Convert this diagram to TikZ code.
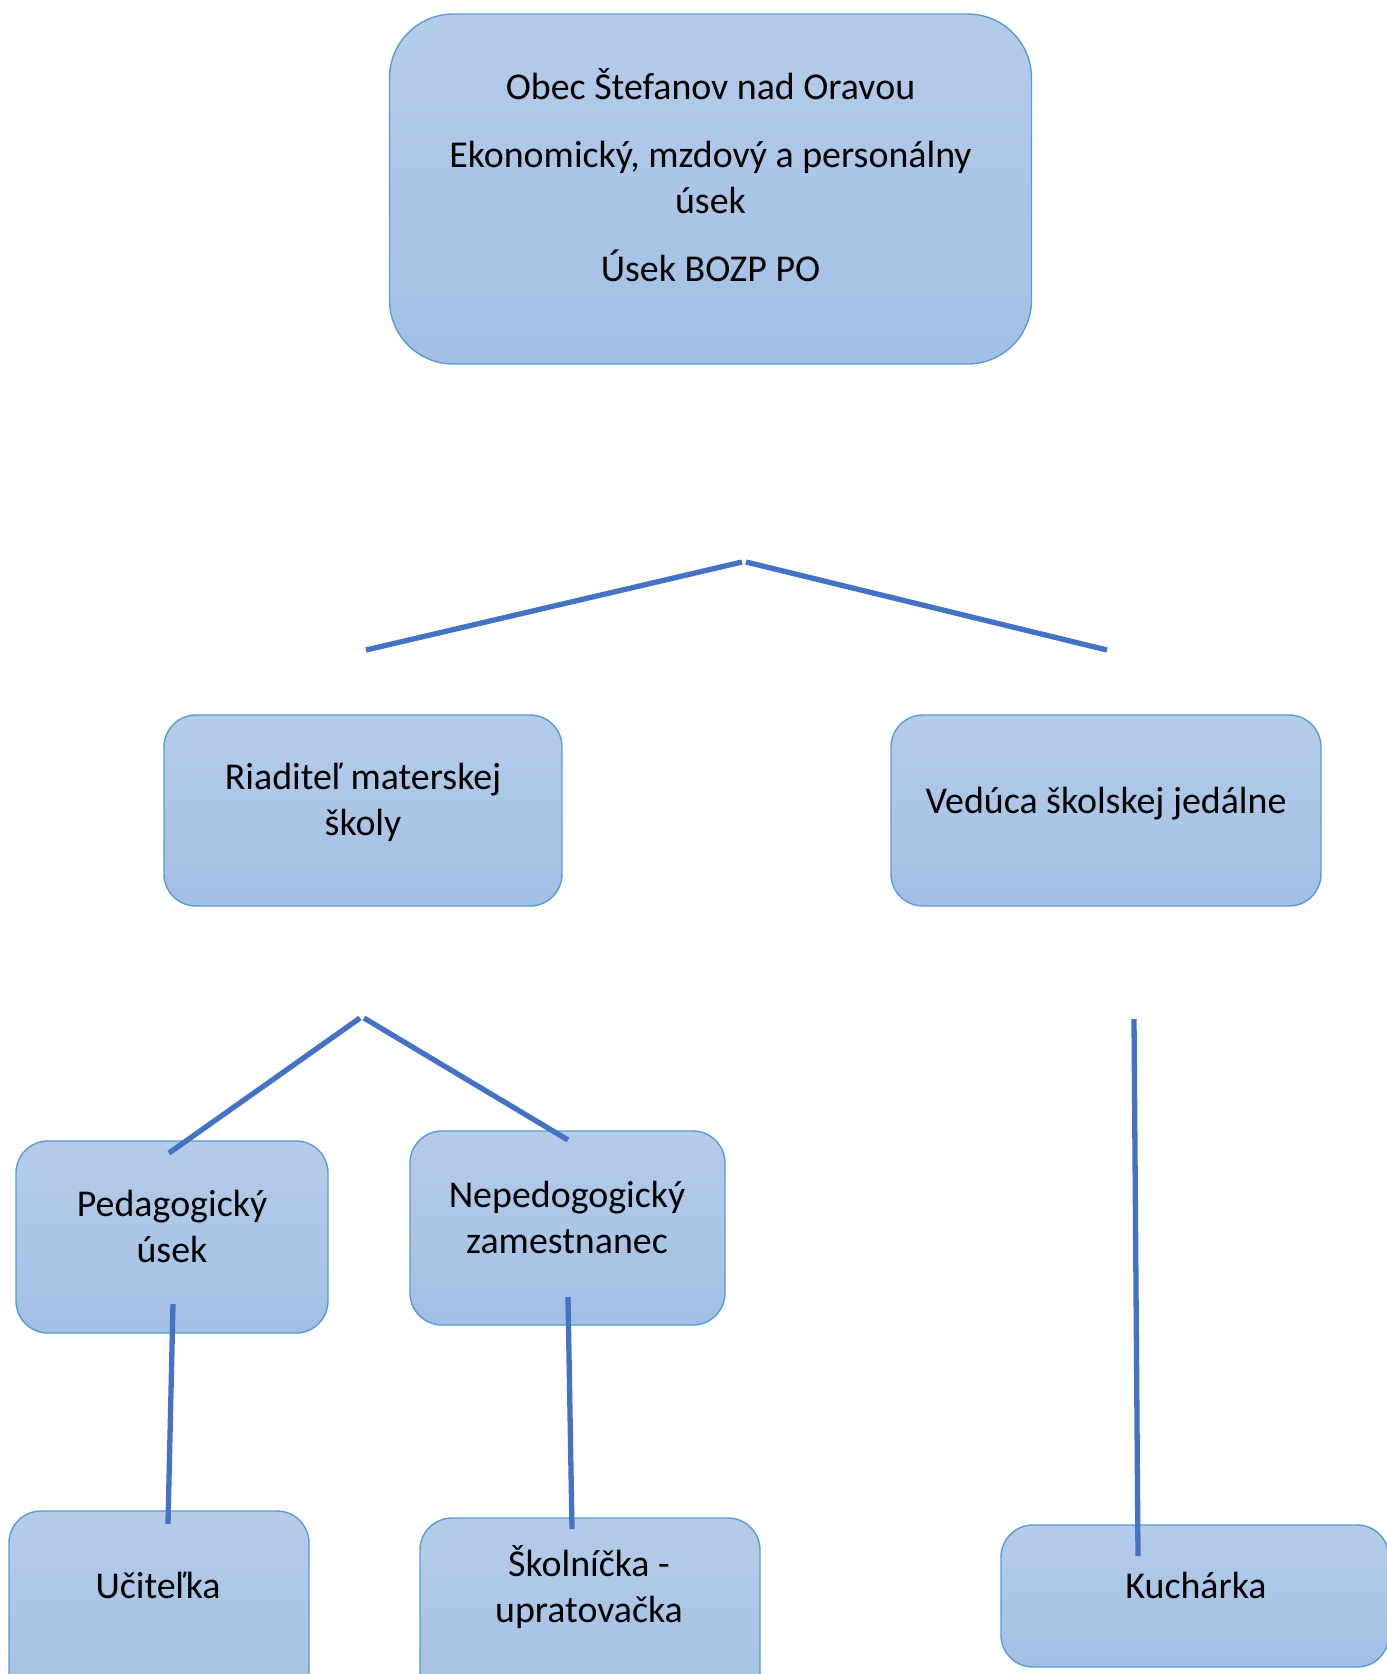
\documentclass[tikz,border=0pt]{standalone}
\usepackage{fontspec}
\setmainfont{Carlito}
\definecolor{boxtop}{RGB}{180,204,233}
\definecolor{boxbot}{RGB}{162,191,228}
\definecolor{boxline}{RGB}{91,155,213}
\definecolor{conn}{RGB}{68,114,196}
\begin{document}
\begin{tikzpicture}[x=1pt,y=-1pt,
  box/.style={draw=boxline, line width=1.4pt, top color=boxtop, bottom color=boxbot,
              shading angle=0, inner sep=0pt, rounded corners=32pt},
  txt/.style={anchor=base, inner sep=0pt, font=\fontsize{37.9}{46}\selectfont},
  conline/.style={draw=conn, line width=5.3pt}]
\useasboundingbox (0,0) rectangle (1387,1674);
\clip (0,0) rectangle (1387,1674);
\fill[white] (0,0) rectangle (1387,1674);
% boxes
\node[box, rounded corners=64pt, minimum width=642pt, minimum height=350pt] (top) at (710.5,189) {};
\node[box, minimum width=398pt, minimum height=191pt] (riad) at (363,810.5) {};
\node[box, minimum width=430pt, minimum height=191pt] (ved) at (1106,810.5) {};
\node[box, minimum width=312pt, minimum height=192pt] (ped) at (172,1237) {};
\node[box, minimum width=315pt, minimum height=194pt] (neped) at (567.5,1228) {};
\node[box, minimum width=300pt, minimum height=200pt] (uc) at (159,1611) {};
\node[box, minimum width=340pt, minimum height=200pt] (sk) at (590,1618) {};
\node[box, minimum width=388pt, minimum height=142pt] (ku) at (1195,1596) {};
% texts
\node[txt] (t1) at (710.5,99) {Obec Štefanov nad Oravou};
\node[txt] (t2) at (710.5,167) {Ekonomický, mzdový a personálny};
\node[txt] (t3) at (710.5,213) {úsek};
\node[txt] (t4) at (710.5,281) {Úsek BOZP PO};
\node[txt] (r1) at (363,789) {Riaditeľ materskej};
\node[txt] (r2) at (363,835) {školy};
\node[txt] (v1) at (1106,813) {Vedúca školskej jedálne};
\node[txt] (p1) at (172,1216) {Pedagogický};
\node[txt] (p2) at (172,1262) {úsek};
\node[txt] (n1) at (567,1207) {Nepedogogický};
\node[txt] (n2) at (567,1253) {zamestnanec};
\node[txt] (u1) at (158,1598) {Učiteľka};
\node[txt] (s1) at (589,1576) {Školníčka -};
\node[txt] (s2) at (589,1622) {upratovačka};
\node[txt] (k1) at (1196,1598) {Kuchárka};
% connector end points
\coordinate (a1) at (366,650);
\coordinate (a2) at (742,562);
\coordinate (a3) at (746,562);
\coordinate (a4) at (1107,650);
\coordinate (b1) at (169,1153);
\coordinate (b2) at (360,1018);
\coordinate (b3) at (364,1018);
\coordinate (b4) at (568,1140);
\coordinate (c1) at (1134,1019);
\coordinate (c2) at (1138,1556);
\coordinate (d1) at (173,1304);
\coordinate (d2) at (168,1524);
\coordinate (e1) at (568,1297);
\coordinate (e2) at (572,1529);
% connectors
\draw[conline] (a1) -- (a2);
\draw[conline] (a3) -- (a4);
\draw[conline] (b1) -- (b2);
\draw[conline] (b3) -- (b4);
\draw[conline] (c1) -- (c2);
\draw[conline] (d1) -- (d2);
\draw[conline] (e1) -- (e2);
\end{tikzpicture}
\end{document}
